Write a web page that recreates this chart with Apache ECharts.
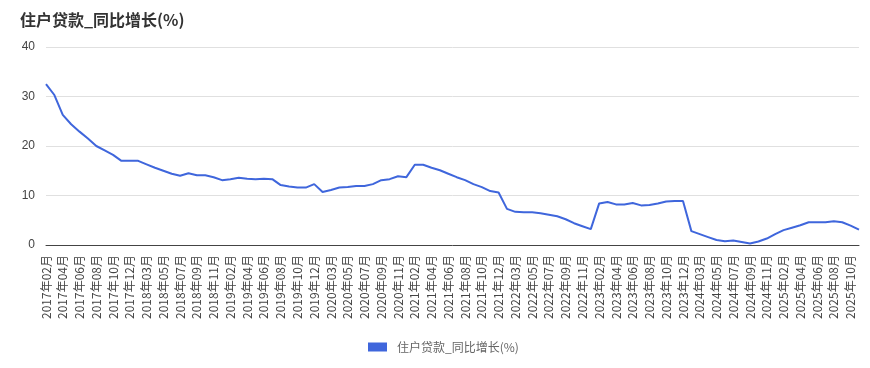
<!DOCTYPE html>
<html>
<head>
<meta charset="utf-8">
<script src="https://cdn.jsdelivr.net/npm/echarts@6/dist/echarts.min.js"></script>
<style>
html,body{margin:0;padding:0;background:#fff;}
#chart{width:870px;height:368px;}
</style>
</head>
<body>
<div id="chart"></div>
<script>
const years = [2017, 2018, 2019, 2020, 2021, 2022, 2023, 2024, 2025];
const months = ['02','03','04','05','06','07','08','09','10','11','12'];
const lastMonth2025 = '11';

const values = [
  32.5, 30.3, 26.3, 24.4, 22.9, 21.5, 20.0, 19.1, 18.2, 17.0, 17.0,
  17.0, 16.3, 15.6, 15.0, 14.4, 14.0, 14.5, 14.1, 14.1, 13.7, 13.1,
  13.3, 13.6, 13.4, 13.3, 13.4, 13.3, 12.1, 11.8, 11.6, 11.6, 12.3,
  10.7, 11.1, 11.6, 11.7, 11.9, 11.9, 12.3, 13.1, 13.3, 13.9, 13.7,
  16.2, 16.2, 15.6, 15.1, 14.4, 13.7, 13.1, 12.3, 11.7, 10.9, 10.6,
  7.3, 6.7, 6.6, 6.6, 6.4, 6.1, 5.8, 5.2, 4.4, 3.8, 3.2,
  8.4, 8.7, 8.2, 8.2, 8.5, 8.0, 8.1, 8.4, 8.8, 8.9, 8.9,
  2.8, 2.2, 1.6, 1.0, 0.75, 0.9, 0.6, 0.3, 0.7, 1.3, 2.2,
  3.0, 3.5, 4.0, 4.6, 4.6, 4.6, 4.8, 4.6, 3.9, 3.1
];

const categories = [];
years.forEach(y => {
  months.forEach(m => {
    if (y === 2025 && m > lastMonth2025) return;
    categories.push(y + '年' + m + '月');
  });
});

const seriesName = '住户贷款_同比增长(%)';
const yTicks = [0, 10, 20, 30, 40];

const chart = echarts.init(document.getElementById('chart'), null, {renderer: 'canvas'});
chart.setOption({
  animation: false,
  backgroundColor: '#fff',
  title: {
    text: '住户贷款_同比增长(%)',
    left: 15,
    top: 7,
    textStyle: {fontSize: 16, fontWeight: 'bold', color: '#333', fontFamily: 'Noto Sans CJK SC'}
  },
  legend: {
    bottom: 10,
    left: 363,
    icon: 'rect',
    itemWidth: 19,
    itemHeight: 9,
    textStyle: {fontSize: 12, color: '#666', fontFamily: 'Noto Sans CJK SC', padding: [0, 0, 0, 5]},
    data: [seriesName]
  },
  grid: {left: 46, right: 11, top: 47, bottom: 123, containLabel: false},
  xAxis: {
    type: 'category',
    boundaryGap: false,
    data: categories,
    axisLine: {lineStyle: {color: '#444', width: 1}},
    axisTick: {show: false},
    axisLabel: {
      interval: 1,
      rotate: 90,
      fontSize: 12,
      color: '#444',
      margin: 10,
      fontFamily: 'Noto Sans CJK SC'
    }
  },
  yAxis: {
    type: 'value',
    min: yTicks[0],
    max: yTicks[yTicks.length - 1],
    interval: 10,
    axisLine: {show: false},
    axisTick: {show: false},
    axisLabel: {fontSize: 12, color: '#444', margin: 11},
    splitLine: {lineStyle: {color: '#e0e0e0', width: 1}}
  },
  series: [{
    name: seriesName,
    type: 'line',
    data: values,
    showSymbol: false,
    symbol: 'none',
    lineStyle: {color: '#3f66dc', width: 2},
    itemStyle: {color: '#3f66dc'}
  }]
});
</script>
</body>
</html>
